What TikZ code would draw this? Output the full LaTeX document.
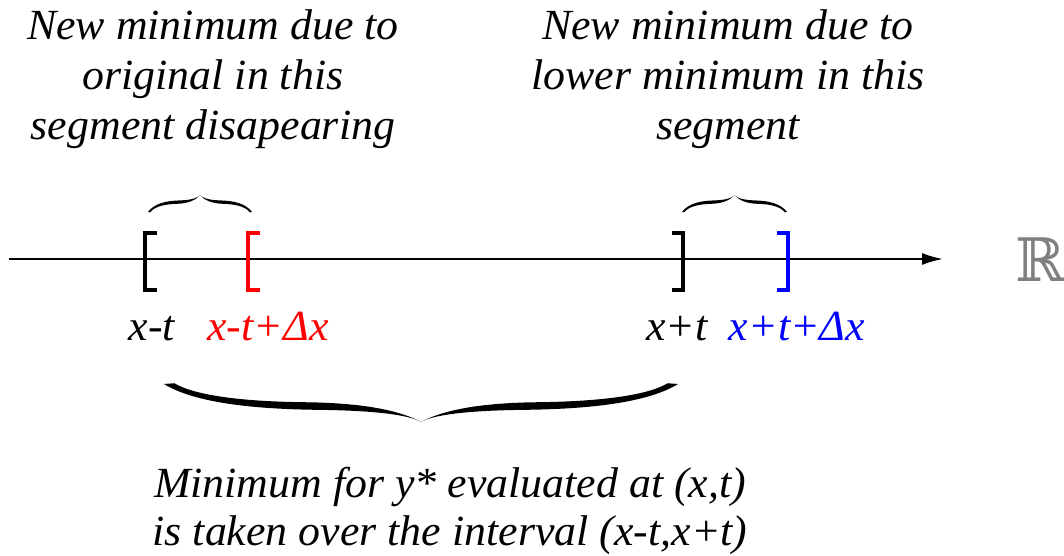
\documentclass[tikz,border=0pt]{standalone}
\usepackage{fontspec}
\setmainfont{LiberationSerif}[Extension=.ttf,UprightFont=*-Regular,ItalicFont=*-Italic,BoldFont=*-Bold,FakeStretch=1.02]
\newfontfamily\realsfont{DejaVu Serif}
\usetikzlibrary{arrows.meta}
\colorlet{lowend}{red}
\colorlet{highend}{blue}
\newcommand{\curlybrace}[4]{% left end x, right end x, end y, depth to tip (+ down, - up)
  \pgfmathsetmacro\bracehalf{(#2-#1)/2}
  \foreach \bside/\bx in {1/#1,-1/#2}{
    \fill[shift={(\bx,#3)},xscale=\bside*\bracehalf,yscale=#4]
      (0,0) .. controls (0.12,0.5) and (0.35,0.66) .. (0.6,0.68)
      .. controls (0.85,0.7) and (0.96,0.84) .. (1,1)
      .. controls (0.93,0.74) and (0.8,0.5) .. (0.55,0.48)
      .. controls (0.3,0.46) and (0.12,0.3) .. (0.04,-0.02) -- cycle;
  }}

\begin{document}
\begin{tikzpicture}[x=1pt,y=-1pt,>={Latex[length=21pt,width=12pt]},
  caption/.style={font=\fontsize{43}{50}\selectfont\itshape,align=center,inner sep=0pt},
  endmark/.style={line width=3.2pt,line join=miter}]
\useasboundingbox (0,0) rectangle (1064,556);
% the real line
\coordinate (axisstart) at (9,259); \coordinate (axisend) at (943,259);
\draw[line width=2pt,->] (axisstart) -- (axisend);
\node[font=\fontsize{60}{60}\selectfont\realsfont,text=gray] (reals) at (1040,260) {ℝ};
% interval ends
\draw[endmark] (157,233)--(145,233)--(145,290)--(157,290);
\draw[endmark,lowend] (260,233)--(248,233)--(248,290)--(260,290);
\draw[endmark] (672,233)--(683,233)--(683,290)--(672,290);
\draw[endmark,highend] (777,233)--(788,233)--(788,290)--(777,290);
\node[caption,anchor=base] (xmt) at (152,340) {x-t};
\node[caption,anchor=base,text=lowend] (xmtdx) at (268,340) {x-t+Δx};
\node[caption,anchor=base] (xpt) at (677,340) {x+t};
\node[caption,anchor=base,text=highend] (xptdx) at (797,340) {x+t+Δx};
% shifted segments
\curlybrace{148}{252}{212}{-17}
\curlybrace{682}{787}{212}{-17}
\node[caption,anchor=base] (oldmin) at (213,140) {New minimum due to\\original in this\\segment disapearing};
\node[caption,anchor=base] (newmin) at (728,140) {New minimum due to\\lower minimum in this\\segment};
% whole window
\curlybrace{164}{678}{384}{38}
\node[caption,font=\fontsize{43}{48}\selectfont\itshape,anchor=base] (window) at (450,545) {Minimum for y* evaluated at (x,t)\\is taken over the interval (x-t,x+t)};
\end{tikzpicture}
\end{document}
